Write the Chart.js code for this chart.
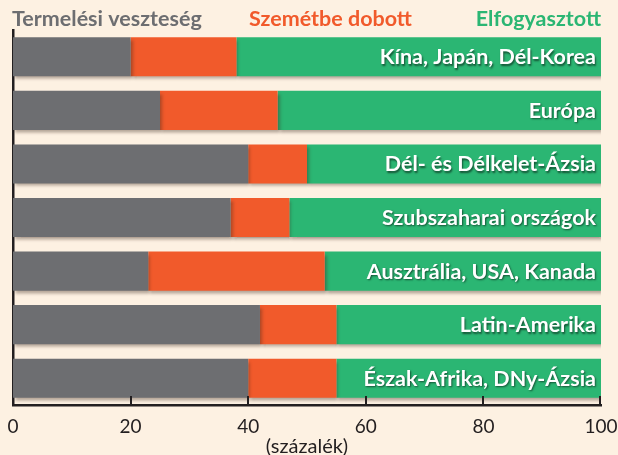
<!DOCTYPE html>
<html lang="hu">
<head>
<meta charset="utf-8">
<script src="https://cdn.jsdelivr.net/npm/chart.js@4/dist/chart.umd.min.js"></script>
<style>
    html, body { margin: 0; padding: 0; background: #fdf1e2; }
    #wrap { width: 618px; height: 455px; }
</style>
</head>
<body>
<div id="wrap"><canvas id="pazarlasChart" width="618" height="455"></canvas></div>
<script>
// Régiók és a megtermelt élelmiszer megoszlása (%)
const regiok = ["Kína, Japán, Dél-Korea", "Európa", "Dél- és Délkelet-Ázsia", "Szubszaharai országok",
    "Ausztrália, USA, Kanada", "Latin-Amerika", "Észak-Afrika, DNy-Ázsia"];
const termelesiVeszteseg = [20, 25, 40, 37, 23, 42, 40];
const szemetbeDobott = [18, 20, 10, 10, 30, 13, 15];
const elfogyasztott = [62, 55, 50, 53, 47, 45, 45];
const xTickek = [0, 20, 40, 60, 80, 100];

const SZURKE = "#6d6e71";
const NARANCS = "#f15a2b";
const ZOLD = "#2bb673";
const BETU = "Lato, 'Open Sans', sans-serif";

// Árnyék a sávok alá (jobbra-lefelé vetül)
const arnyekPlugin = {
    id: "arnyek",
    beforeDatasetDraw(chart) {
        const ctx = chart.ctx;
        ctx.save();
        ctx.shadowColor = "rgba(60, 40, 30, 0.38)";
        ctx.shadowBlur = 3;
        ctx.shadowOffsetX = 2;
        ctx.shadowOffsetY = 3;
    },
    afterDatasetDraw(chart) {
        chart.ctx.restore();
    },
};

// Fejléc, régiónevek a sávokon, befelé álló osztásjelek
const feliratPlugin = {
    id: "feliratok",
    afterDraw(chart) {
        const ctx = chart.ctx;
        const area = chart.chartArea;
        const x = chart.scales.x;
        const y = chart.scales.y;

        ctx.save();
        ctx.font = "bold 21.5px " + BETU;
        ctx.textBaseline = "alphabetic";
        ctx.fillStyle = SZURKE;
        ctx.textAlign = "left";
        ctx.fillText("Termelési veszteség", area.left - 1, 26);
        ctx.fillStyle = NARANCS;
        ctx.textAlign = "center";
        ctx.fillText("Szemétbe dobott", x.getPixelForValue(54), 26);
        ctx.fillStyle = ZOLD;
        ctx.textAlign = "right";
        ctx.fillText("Elfogyasztott", area.right, 26);

        ctx.fillStyle = "#ffffff";
        ctx.textAlign = "right";
        ctx.textBaseline = "middle";
        ctx.shadowColor = "rgba(0, 0, 0, 0.55)";
        ctx.shadowBlur = 2;
        ctx.shadowOffsetX = 1;
        ctx.shadowOffsetY = 1.5;
        regiok.forEach((nev, i) => {
            ctx.fillText(nev, area.right - 5, y.getPixelForValue(i) + 0.5);
        });
        ctx.restore();

        ctx.save();
        ctx.strokeStyle = "#231f20";
        ctx.lineWidth = 2;
        xTickek.slice(1).forEach((t) => {
            const px = Math.round(x.getPixelForValue(t)) - (t === 100 ? 1 : 0);
            ctx.beginPath();
            ctx.moveTo(px, area.bottom);
            ctx.lineTo(px, area.bottom - 9);
            ctx.stroke();
        });
        ctx.restore();
    },
};

const ctx = document.getElementById("pazarlasChart").getContext("2d");
const pazarlasChart = new Chart(ctx, {
    type: "bar",
    data: {
        labels: regiok,
        datasets: [
            { label: "Termelési veszteség", data: termelesiVeszteseg, backgroundColor: SZURKE },
            { label: "Szemétbe dobott", data: szemetbeDobott, backgroundColor: NARANCS },
            { label: "Elfogyasztott", data: elfogyasztott, backgroundColor: ZOLD },
        ],
    },
    options: {
        indexAxis: "y",
        responsive: false,
        animation: false,
        barPercentage: 0.73,
        categoryPercentage: 1,
        layout: { padding: { top: 30, left: 13, right: 17, bottom: 0 } },
        plugins: {
            legend: { display: false },
            tooltip: { enabled: false },
        },
        scales: {
            x: {
                stacked: true,
                min: 0,
                max: 100,
                z: 1,
                afterBuildTicks: (axis) => {
                    axis.ticks = xTickek.map((v) => ({ value: v }));
                },
                // fix magasság, a szélső feliratok ne szűkítsék a rajzterületet
                afterFit: (scale) => {
                    scale.height = 50;
                    scale.paddingLeft = 0;
                    scale.paddingRight = 0;
                },
                grid: { display: false, drawTicks: false },
                border: { display: true, color: "#231f20", width: 2.5 },
                ticks: {
                    color: "#231f20",
                    font: { family: BETU, size: 19, lineHeight: 1 },
                    padding: 12,
                    maxRotation: 0,
                },
                title: {
                    display: true,
                    text: "(százalék)",
                    color: "#231f20",
                    font: { family: BETU, size: 20, lineHeight: 1 },
                    padding: { top: 0, bottom: -2 },
                },
            },
            y: {
                stacked: true,
                z: 1,
                afterFit: (scale) => {
                    scale.width = 0;
                },
                grid: { display: false, drawTicks: false },
                border: { display: true, color: "#231f20", width: 2.5 },
                ticks: { display: false },
            },
        },
    },
    plugins: [arnyekPlugin, feliratPlugin],
});
</script>
</body>
</html>
